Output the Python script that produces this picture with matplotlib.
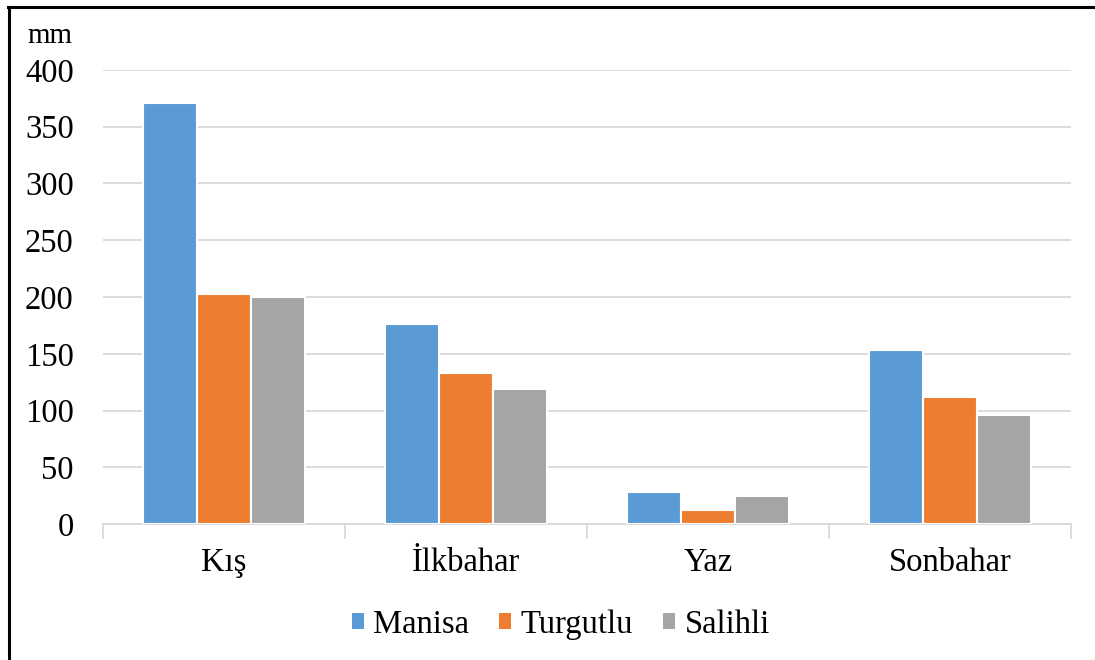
"""
Seasonal precipitation totals for Manisa, Turgutlu and Salihli.
"""
import matplotlib.pyplot as plt
from matplotlib.lines import Line2D
from matplotlib.patches import Patch
import numpy as np

SEASONS = ["Kış", "İlkbahar", "Yaz", "Sonbahar"]
STATIONS = ["Manisa", "Turgutlu", "Salihli"]
COLORS = ["#5B9BD5", "#ED7D31", "#A5A5A5"]

manisa = [371, 176, 28, 153]
turgutlu = [203, 133, 12, 112]
salihli = [200, 119, 25, 96]

plt.rcParams['font.family'] = ['Liberation Serif', 'DejaVu Serif']


def plot_data():
    """Draws the clustered bar chart and saves it"""
    fig = plt.figure(figsize=(10.95, 6.6), dpi=100)
    ax = fig.add_axes([0.094, 0.206, 0.884, 0.688])

    x = np.arange(len(SEASONS))
    width = 0.223
    series = [manisa, turgutlu, salihli]
    for i, (vals, color) in enumerate(zip(series, COLORS)):
        ax.bar(x + (i - 1) * width, vals, width, color=color,
               edgecolor='white', linewidth=1.5, zorder=3)

    ax.set_xlim(-0.5, len(SEASONS) - 0.5)
    ax.set_ylim(0, 400)
    ax.set_yticks(range(0, 401, 50))
    ax.grid(True, axis='y', color='#d9d9d9', linewidth=1.3, zorder=0)
    ax.set_axisbelow(True)

    for side in ['top', 'right', 'left']:
        ax.spines[side].set_visible(False)
    ax.spines['bottom'].set_color('#d9d9d9')
    ax.spines['bottom'].set_linewidth(1.3)

    # labels on the category centers, tick marks on the boundaries
    ax.set_xticks(x)
    ax.set_xticklabels(SEASONS, fontsize=23.5)
    ax.tick_params(axis='x', length=0, pad=17)
    ax.set_xticks(np.arange(-0.5, len(SEASONS)), minor=True)
    ax.tick_params(axis='x', which='minor', length=11, width=1.3, color='#d9d9d9')
    ax.tick_params(axis='y', length=0, pad=21, labelsize=23.5)

    fig.text(0.025, 0.945, "mm", fontsize=21, ha='left', va='center')

    handles = [Patch(facecolor=c, edgecolor='none') for c in COLORS]
    fig.legend(handles, STATIONS, loc='center', bbox_to_anchor=(0.512, 0.054),
               ncol=3, frameon=False, fontsize=23.5, handlelength=0.37,
               handleheight=0.37, handletextpad=0.3, columnspacing=0.9)

    # frame lines along the left and top edges
    fig.add_artist(Line2D([0.0085, 0.0085], [0, 0.99], color='black',
                          linewidth=2.2, transform=fig.transFigure))
    fig.add_artist(Line2D([0.0075, 1.0], [0.99, 0.99], color='black',
                          linewidth=2.2, transform=fig.transFigure))

    fig.savefig("out.png", dpi=100)


if __name__ == '__main__':
    plot_data()
